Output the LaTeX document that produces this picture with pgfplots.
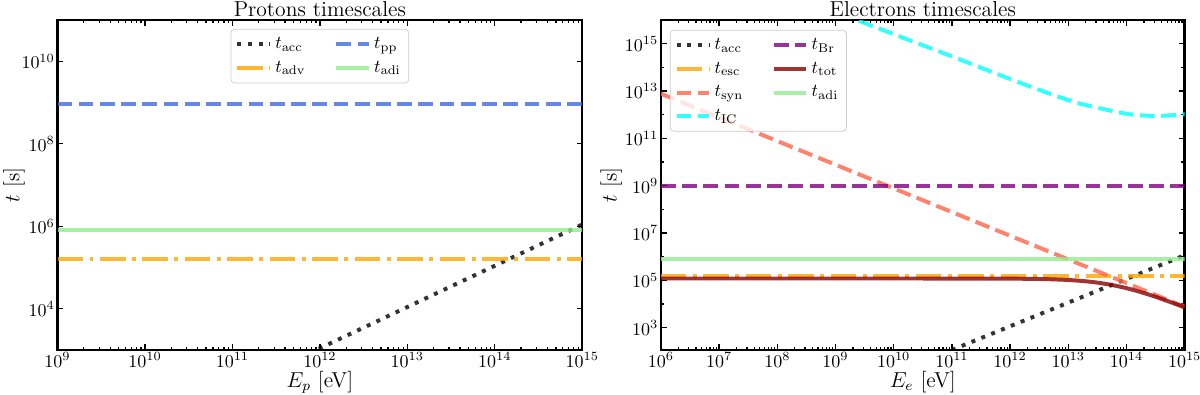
\documentclass[border=0pt]{standalone}
\usepackage{pgfplots}
\pgfplotsset{compat=1.18}
\definecolor{mporange}{HTML}{FFA500}
\definecolor{mpblue}{HTML}{4169E1}
\definecolor{mpgreen}{HTML}{90EE90}
\definecolor{mptomato}{HTML}{FF6347}
\definecolor{mpcyan}{HTML}{00FFFF}
\definecolor{mppurple}{HTML}{800080}
\definecolor{mpdarkred}{HTML}{8B0000}

% minor ticks 2..9 in every decade
\def\minL{2e9}
\foreach \e in {9,...,14}{\foreach \m in {2,...,9}{\xdef\minL{\minL,\m e\e}}}
\def\minR{2e6}
\foreach \e in {6,...,14}{\foreach \m in {2,...,9}{\xdef\minR{\minR,\m e\e}}}

\tikzset{
  lw/.style={line width=2.2pt, draw opacity=0.8},
  dsh/.style={dash pattern=on 8.2pt off 3.6pt},
  dsd/.style={dash pattern=on 14.2pt off 3.6pt on 2.2pt off 3.6pt},
  dtt/.style={dash pattern=on 2.2pt off 3.7pt},
}
\pgfplotsset{
  legend image code/.code={\draw[#1] (0cm,0cm) -- (0.63cm,0cm);},
  every axis title/.style={at={(0.5,1)}, anchor=base, yshift=2pt, font=\large},
  every axis/.append style={
    scale only axis, height=6.445cm, anchor=south west,
    tick align=inside, major tick length=3.1pt, minor tick length=1.8pt,
    axis line style={line width=1.3pt},
    every tick/.style={black, line width=0.7pt},
    tick label style={font=\normalsize},
    label style={font=\large},
    xticklabel shift=-2pt, yticklabel shift=-2pt,
    xlabel style={at={(axis description cs:0.5,-0.097)}, anchor=center},
    legend cell align=left,
    legend style={draw=black!20, rounded corners=2pt, fill=white, fill opacity=0.8,
      text opacity=1, font=\normalsize, inner sep=2.5pt, row sep=1.5pt,
      /tikz/every even column/.append style={column sep=14pt}},
  },
}

\begin{document}
\begin{tikzpicture}
\useasboundingbox (0,0) rectangle (23.44,7.715);
\begin{loglogaxis}[at={(1.123cm,0.879cm)}, width=10.25cm,
  title={Protons timescales},
  xmin=1e9, xmax=1e15, ymin=1e3, ymax=1e11,
  xtick={1e9,1e10,1e11,1e12,1e13,1e14,1e15}, minor xtick/.expanded=\minL,
  ytick={1e4,1e6,1e8,1e10}, minor ytick={},
  xlabel={$E_p$ [eV]}, ylabel={$t$ [s]},
  ylabel style={at={(axis description cs:-0.083,0.5)}, anchor=center},
  legend columns=2, transpose legend,
  legend style={at={(0.5,0.973)}, anchor=north},
]
\addplot[lw, dtt, black] coordinates {(1e11,110) (1e15,1.1e6)};
\addlegendentry{$t_{\mathrm{acc}}$}
\addplot[lw, dsd, mporange] coordinates {(1e9,1.6e5) (1e15,1.6e5)};
\addlegendentry{$t_{\mathrm{adv}}$}
\addplot[lw, dsh, mpblue] coordinates {(1e9,9.4e8) (1e15,9.4e8)};
\addlegendentry{$t_{\mathrm{pp}}$}
\addplot[lw, mpgreen] coordinates {(1e9,8e5) (1e15,8e5)};
\addlegendentry{$t_{\mathrm{adi}}$}
\end{loglogaxis}

\begin{loglogaxis}[at={(12.91cm,0.879cm)}, width=10.23cm,
  title={Electrons timescales},
  xmin=1e6, xmax=1e15, ymin=115, ymax=1e16,
  xtick={1e6,1e7,1e8,1e9,1e10,1e11,1e12,1e13,1e14,1e15}, minor xtick/.expanded=\minR,
  ytick={1e3,1e5,1e7,1e9,1e11,1e13,1e15},
  minor ytick={1e4,1e6,1e8,1e10,1e12,1e14},
  xlabel={$E_e$ [eV]}, ylabel={$t$ [s]},
  ylabel style={at={(axis description cs:-0.095,0.5)}, anchor=center},
  legend columns=4, transpose legend,
  legend style={at={(0.017,0.97)}, anchor=north west},
]
\addplot[lw, dtt, black] coordinates {(1e11,115) (1e15,1.15e6)};
\addlegendentry{$t_{\mathrm{acc}}$}
\addplot[lw, dsd, mporange] coordinates {(1e6,1.6e5) (1e15,1.6e5)};
\addlegendentry{$t_{\mathrm{esc}}$}
\addplot[lw, dsh, mptomato] coordinates {(1e6,7.7e12) (1e15,7.7e3)};
\addlegendentry{$t_{\mathrm{syn}}$}
\addplot[lw, dsh, mpcyan, smooth] coordinates {
  (1e6,1.58e19) (1e9,2.24e16) (2.63e9,8.9e15) (1.45e10,1.78e15) (8.13e10,3.55e14)
  (4.47e11,6.92e13) (2.51e12,1.38e13) (1.38e13,3.24e12) (7.76e13,1.23e12)
  (1.58e14,9.55e11) (3.72e14,8.9e11) (1e15,1.05e12)};
\addlegendentry{$t_{\mathrm{IC}}$}
\addplot[lw, dsh, mppurple] coordinates {(1e6,1e9) (1e15,1e9)};
\addlegendentry{$t_{\mathrm{Br}}$}
\addplot[lw, mpdarkred, smooth] coordinates {
  (1e6,1.2e5) (1e11,1.198e5) (1e12,1.182e5) (3.162e12,1.144e5) (5.623e12,1.103e5)
  (1e13,1.038e5) (1.778e13,9.40e4) (3.162e13,8.04e4) (5.623e13,6.39e4)
  (1e14,4.69e4) (1.778e14,3.18e4) (3.162e14,2.024e4) (5.623e14,1.229e4) (1e15,7.23e3)};
\addlegendentry{$t_{\mathrm{tot}}$}
\addplot[lw, mpgreen] coordinates {(1e6,8e5) (1e15,8e5)};
\addlegendentry{$t_{\mathrm{adi}}$}
\end{loglogaxis}
\end{tikzpicture}
\end{document}
